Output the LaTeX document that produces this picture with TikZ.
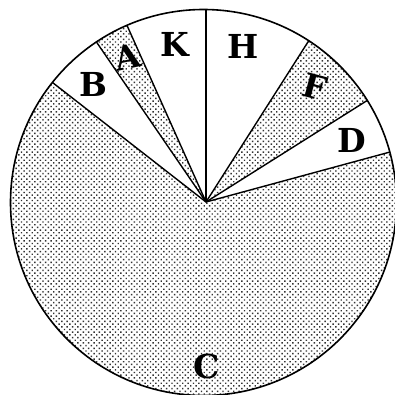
\documentclass[tikz,border=0pt]{standalone}
\usepackage{fontspec}
\newfontfamily\piefont{DejaVu Serif}
\usetikzlibrary{patterns.meta}

\begin{document}
\begin{tikzpicture}[x=1pt, y=1pt,
    stipple/.style={pattern={Dots[distance=3.8pt, radius=1pt, angle=45]}, pattern color=black!80},
    blank/.style={fill=white},
    spoke/.style={line width=1.4pt},
    rim/.style={line width=1.6pt},
    share/.style={font=\piefont\bfseries\fontsize{33}{33}\selectfont, inner sep=0pt}
]
    \useasboundingbox (0,0) rectangle (395,394);
    \coordinate (hub) at (206,192);
    \coordinate (mid) at (203.5,191.5);

    % stippled disc
    \fill[stipple] (mid) circle (193);

    \begin{scope}
        \clip (mid) circle (193);
        % white sectors B, K, H, D
        \fill[blank] (hub) -- +(142.1:300) -- +(124.4:300) -- cycle;
        \fill[blank] (hub) -- +(114.1:300) -- +(90:300) -- cycle;
        \fill[blank] (hub) -- +(90:300) -- +(57.5:300) -- cycle;
        \fill[blank] (hub) -- +(32.2:300) -- +(15.2:300) -- cycle;
        % spokes
        \foreach \a in {142.1,124.4,114.1,90,57.5,32.2,15.2}
            \draw[spoke] (hub) -- +(\a:300);
    \end{scope}

    % rim
    \draw[rim] (mid) circle (193);

    % labels
    \node[share] (B) at (93,310) {B};
    \node[share, rotate=12] (A) at (128,337) {A};
    \node[share] (K) at (175,350) {K};
    \node[share] (H) at (243,348) {H};
    \node[share, rotate=-15] (F) at (315,307) {F};
    \node[share] (D) at (352,254) {D};
    \node[share] (C) at (207,28) {C};
\end{tikzpicture}
\end{document}
